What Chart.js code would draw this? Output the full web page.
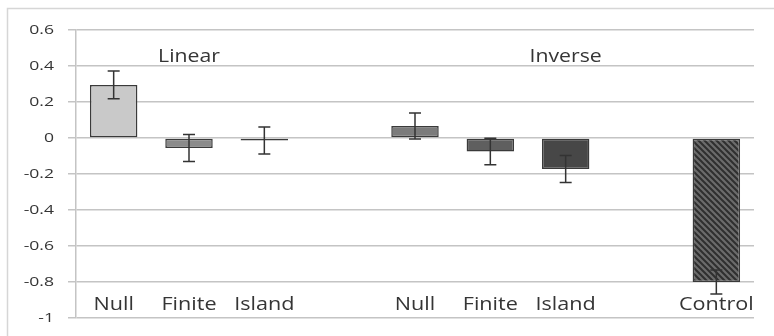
<!DOCTYPE html>
<html>
<head>
<meta charset="utf-8">
<script src="https://cdn.jsdelivr.net/npm/chart.js@4"></script>
<style>
  html, body { margin: 0; padding: 0; background: #fff; }
</style>
</head>
<body>
<canvas id="effectChart" width="774" height="336"></canvas>
<script>
// categories (empty strings are the gaps between groups)
const categories = ["Null", "Finite", "Island", "", "Null", "Finite", "Island", "", "Control"];
const means = [0.295, -0.055, -0.014, null, 0.067, -0.075, -0.172, null, -0.800];
const errors = [0.077, 0.075, 0.075, null, 0.072, 0.073, 0.075, null, 0.067];
const groupLabels = ["Linear", "Inverse"];
const groupIndex = [1, 6];
const yTicks = [0.6, 0.4, 0.2, 0, -0.2, -0.4, -0.6, -0.8, -1];

const fontFamily = "'Open Sans', 'Liberation Sans', sans-serif";
const textColor = "#353535";
const gridColor = "#c4c4c4";

// diagonal hatch for the control bar
function makeHatch() {
  const p = 6;
  const c = document.createElement("canvas");
  c.width = p; c.height = p;
  const g = c.getContext("2d");
  g.fillStyle = "#6b6b6b";
  g.fillRect(0, 0, p, p);
  g.strokeStyle = "#2f2f2f";
  g.lineWidth = 2;
  g.beginPath();
  g.moveTo(-1, -1); g.lineTo(p + 1, p + 1);
  g.moveTo(-1, p - 1); g.lineTo(1, p + 1);
  g.moveTo(p - 1, -1); g.lineTo(p + 1, 1);
  g.stroke();
  return g.createPattern(c, "repeat");
}

const barColors = ["#c9c9c9", "#8b8b8b", "#5a5a5a", null, "#7b7b7b", "#5f5f5f", "#474747", null, makeHatch()];

// text in the reference is a bit stretched sideways
function stretchText(ctx, text, x, y, sx) {
  ctx.save();
  ctx.translate(x, y);
  ctx.scale(sx, 1);
  ctx.fillText(text, 0, 0);
  ctx.restore();
}

const frame = {
  id: "frame",
  beforeDraw(chart) {
    const ctx = chart.ctx;
    ctx.save();
    ctx.fillStyle = "#fff";
    ctx.fillRect(0, 0, chart.width, chart.height);
    ctx.strokeStyle = "#d6d6d6";
    ctx.lineWidth = 1.5;
    ctx.strokeRect(7.5, 8.5, chart.width + 10, chart.height + 10);
    ctx.restore();
  }
};

const errorBars = {
  id: "errorBars",
  afterDatasetsDraw(chart) {
    const ctx = chart.ctx;
    const x = chart.scales.x, y = chart.scales.y;
    ctx.save();
    ctx.strokeStyle = "#333";
    ctx.lineWidth = 1.5;
    means.forEach((m, i) => {
      if (m === null) return;
      const cx = x.getPixelForValue(i);
      const top = y.getPixelForValue(m + errors[i]);
      const bot = y.getPixelForValue(m - errors[i]);
      ctx.beginPath();
      ctx.moveTo(cx, top); ctx.lineTo(cx, bot);
      ctx.moveTo(cx - 6, top); ctx.lineTo(cx + 6, top);
      ctx.moveTo(cx - 6, bot); ctx.lineTo(cx + 6, bot);
      ctx.stroke();
    });
    ctx.restore();
  }
};

const labelsPlugin = {
  id: "textLabels",
  afterDraw(chart) {
    const ctx = chart.ctx;
    const x = chart.scales.x, y = chart.scales.y;
    ctx.save();
    ctx.fillStyle = textColor;
    ctx.textBaseline = "middle";

    // y tick labels
    ctx.textAlign = "right";
    ctx.font = "13px " + fontFamily;
    yTicks.forEach(v => {
      stretchText(ctx, String(+v.toFixed(1)), y.left + y.width - 22, y.getPixelForValue(v), 1.35);
    });

    ctx.textAlign = "center";
    ctx.font = "18px " + fontFamily;
    categories.forEach((c, i) => {
      if (c) stretchText(ctx, c, x.getPixelForValue(i), y.getPixelForValue(-0.928), 1.2);
    });
    groupLabels.forEach((g, k) => {
      stretchText(ctx, g, x.getPixelForValue(groupIndex[k]), y.getPixelForValue(0.45), 1.18);
    });
    ctx.restore();
  }
};

new Chart(document.getElementById("effectChart"), {
  type: "bar",
  data: {
    labels: categories,
    datasets: [{
      data: means,
      backgroundColor: barColors,
      borderColor: "#3a3a3a",
      borderWidth: 1.5,
      borderSkipped: false,
      barPercentage: 0.63,
      categoryPercentage: 1
    }]
  },
  options: {
    responsive: false,
    animation: false,
    devicePixelRatio: 1,
    layout: { padding: { left: 0, right: 20, top: 30, bottom: 18 } },
    plugins: { legend: { display: false }, tooltip: { enabled: false } },
    scales: {
      x: { display: false },
      y: {
        min: -1,
        max: 0.6,
        afterFit(s) { s.width = 76; },
        afterBuildTicks(s) { s.ticks = yTicks.map(v => ({ value: v })); },
        ticks: { display: false },
        grid: { color: gridColor, lineWidth: 1.5, tickLength: 8 },
        border: { display: true, color: gridColor, width: 1.5 }
      }
    }
  },
  plugins: [frame, errorBars, labelsPlugin]
});
</script>
</body>
</html>
